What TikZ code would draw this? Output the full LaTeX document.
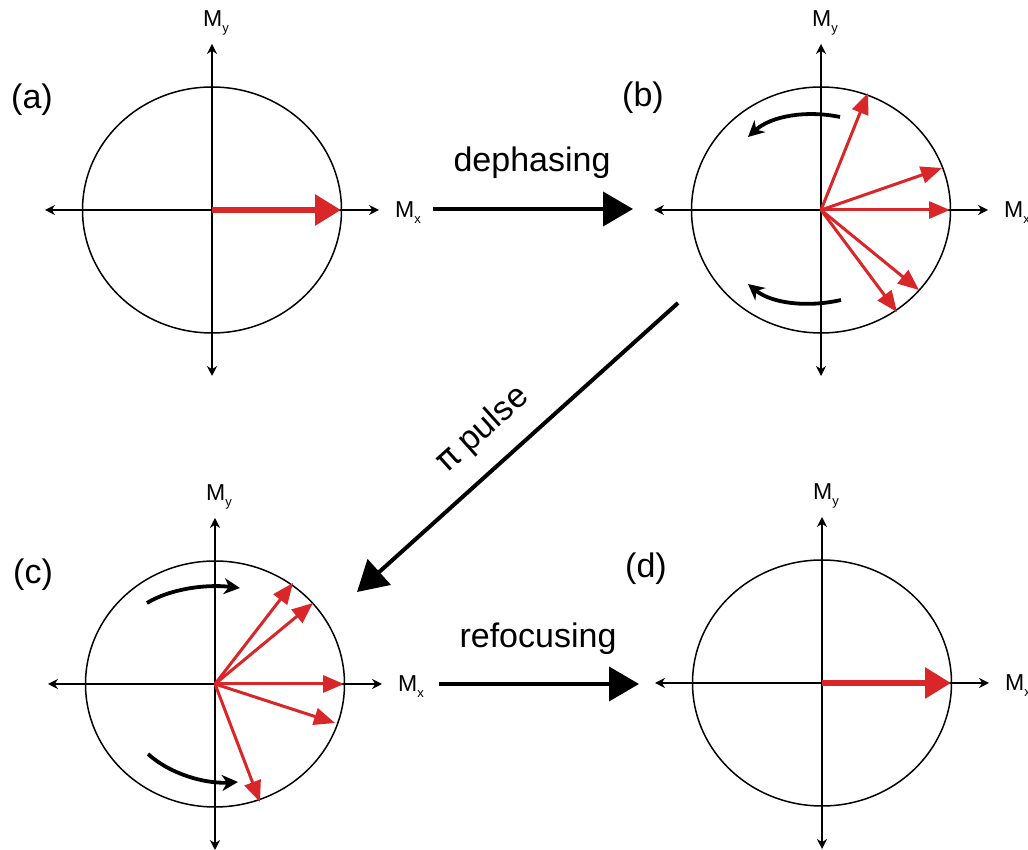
\documentclass[tikz,border=0pt]{standalone}
\usepackage{fontspec}
\setmainfont{Liberation Sans}
\newfontfamily\greekfont{DejaVu Sans}
\usetikzlibrary{arrows.meta}
\definecolor{vecred}{RGB}{217,38,40}
\newcommand{\lowsub}[1]{\raisebox{-6pt}{\fontsize{13}{13}\selectfont #1}}

\begin{document}
\begin{tikzpicture}[x=1pt, y=1pt,
					ring/.style={line width=1.5pt},
					axis/.style={line width=1.5pt, {Stealth[length=10pt,width=10pt]}-{Stealth[length=10pt,width=10pt]}},
					spin/.style={vecred, line width=3pt, -{Triangle[length=21pt,width=17pt]}},
					bigspin/.style={vecred, line width=6pt, -{Triangle[length=26pt,width=30pt]}},
					turn/.style={line width=3.8pt, -{Stealth[length=16pt,width=16pt,inset=5pt]}},
					proc/.style={line width=4pt, -{Triangle[length=30pt,width=34pt]}},
					axlabel/.style={font=\fontsize{23}{26}\selectfont, inner sep=0pt, anchor=base west},
					panel/.style={font=\fontsize{34}{40}\selectfont, inner sep=0pt},
					proclabel/.style={font=\fontsize{34}{40}\selectfont, inner sep=0pt}]
					%Bildbereich
					\useasboundingbox (0,0) rectangle (1028,850);
					% Kreise und Achsen
					\foreach \p/\cx/\cy in {a/212/640, b/821/640, c/215/166, d/822/167} {
						\begin{scope}[shift={(\cx,\cy)}]
							\coordinate (o-\p) at (0,0);
							\coordinate (W-\p) at (-167,0);
							\coordinate (E-\p) at (167,0);
							\coordinate (S-\p) at (0,-166);
							\coordinate (N-\p) at (0,166);
							\draw[ring] (o-\p) ellipse [x radius=129.5, y radius=123];
							\draw[axis] (W-\p) -- (E-\p);
							\draw[axis] (S-\p) -- (N-\p);
							\node[axlabel] (Mx-\p) at (183,-8) {M\lowsub{x}};
							\node[axlabel] (My-\p) at (-9,183) {M\lowsub{y}};
						\end{scope}
					}
					% Beschriftung
					\node[panel] (lab-a) at (32,750) {(a)};
					\node[panel] (lab-b) at (643,752) {(b)};
					\node[panel] (lab-c) at (33,275) {(c)};
					\node[panel] (lab-d) at (646,281) {(d)};
					% (a) und (d)
					\coordinate (a1) at (341,640);
					\draw[bigspin] (o-a) -- (a1);
					\coordinate (d1) at (951,167);
					\draw[bigspin] (o-d) -- (d1);
					% (b) Dephasierung
					\begin{scope}[shift={(o-b)}]
						\foreach \tx/\ty [count=\k] in {47/117, 121/42, 129/0, 98/-80, 76/-102} {
							\coordinate (b\k) at (\tx,\ty);
							\draw[spin] (o-b) -- (b\k);
						}
						\draw[turn] (19,93) .. controls (-15,100) and (-50,94) .. (-73,73);
						\draw[turn] (20,-90) .. controls (-15,-98) and (-50,-93) .. (-73,-74);
					\end{scope}
					% (c) Refokussierung
					\begin{scope}[shift={(o-c)}]
						\foreach \tx/\ty [count=\k] in {78/101, 98/81, 129/0, 120/-39, 45/-118} {
							\coordinate (c\k) at (\tx,\ty);
							\draw[spin] (o-c) -- (c\k);
						}
						\draw[turn] (-68,81) .. controls (-45,95) and (-10,100) .. (25,96);
						\draw[turn] (-67,-70) .. controls (-45,-90) and (-10,-100) .. (23,-98);
					\end{scope}
					% Uebergaenge
					\coordinate (deph-s) at (433,641);
					\coordinate (deph-e) at (633,641);
					\draw[proc] (deph-s) -- (deph-e);
					\node[proclabel, anchor=base] (deph) at (532,678) {dephasing};
					\coordinate (pi-s) at (678,547);
					\coordinate (pi-e) at (357,258);
					\draw[proc] (pi-s) -- (pi-e);
					\node[proclabel, rotate=42] (pi) at (483,420) {{\greekfont π} pulse};
					\coordinate (ref-s) at (439,166);
					\coordinate (ref-e) at (639,166);
					\draw[proc] (ref-s) -- (ref-e);
					\node[proclabel, anchor=base] (ref) at (538,202) {refocusing};
				\end{tikzpicture}
\end{document}
